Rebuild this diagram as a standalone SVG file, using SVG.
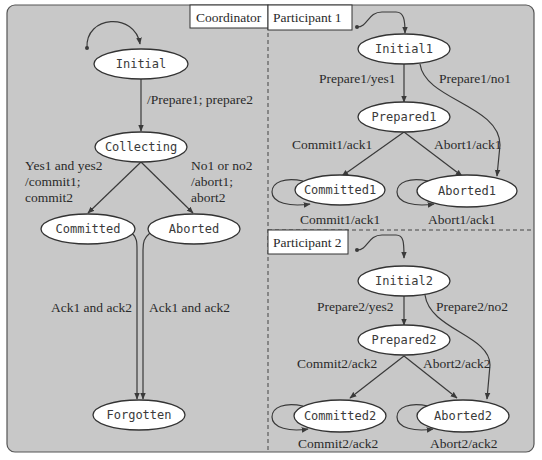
<svg xmlns="http://www.w3.org/2000/svg" width="542" height="460" viewBox="0 0 542 460">
<defs>
<marker id="ah" viewBox="0 0 10 10" refX="9" refY="5" markerWidth="7" markerHeight="7" orient="auto-start-reverse" markerUnits="userSpaceOnUse">
<path d="M0,1 L10,5 L0,9 z" fill="#3a3a3a"/>
</marker>
<style>
.st ellipse{fill:#fff;stroke:#333;stroke-width:1.3}
.st text{font-family:"DejaVu Sans Mono","Liberation Mono",monospace;font-size:12px;fill:#3a3a3a;text-anchor:middle}
.lbl{font-family:"Liberation Serif","DejaVu Serif",serif;font-size:13.5px;fill:#2a2a2a}
.edge path,.edge line{fill:none;stroke:#3a3a3a;stroke-width:1.2}
.arr{marker-end:url(#ah)}
.box rect{fill:#fff;stroke:#333;stroke-width:1}
.dash{stroke:#444;stroke-width:1;stroke-dasharray:4 3;fill:none}
</style>
</defs>
<rect x="0" y="0" width="542" height="460" fill="#fff"/>
<rect x="7" y="5" width="527" height="447" rx="8" fill="#c8c8c8" stroke="#555" stroke-width="1.2"/>
<line class="dash" x1="268" y1="5" x2="268" y2="452"/>
<line class="dash" x1="268" y1="230" x2="534" y2="230"/>
<g id="labels-boxes" class="box">
<rect x="190" y="5" width="78" height="23"/>
<text class="lbl" x="196" y="22">Coordinator</text>
<rect x="268" y="5" width="84" height="25"/>
<text class="lbl" x="273" y="22">Participant 1</text>
<rect x="268" y="230" width="80" height="24"/>
<text class="lbl" x="273" y="247">Participant 2</text>
</g>
<g id="connectors" class="edge">
<path class="arr" d="M87,48 C85,15 135,12 140,44"/>
<circle cx="87" cy="48" r="2" fill="#3a3a3a"/>
<line class="arr" x1="141" y1="79" x2="141" y2="131"/>
<line class="arr" x1="141" y1="162" x2="88" y2="213"/>
<line class="arr" x1="141" y1="162" x2="193" y2="213"/>
<path class="arr" d="M132,233 C137,238 137,242 137,250 L137,399"/>
<path class="arr" d="M150,233 C144,238 143,242 143,250 L143,399"/>

<path class="arr" d="M357,27 C368,27 368,12 382,12 L396,12 C404,12 405,20 405,33"/>
<circle cx="357" cy="27" r="2" fill="#3a3a3a"/>
<line class="arr" x1="404" y1="64" x2="404" y2="102"/>
<path class="arr" d="M420,64 C425,100 500,105 500,145 L497,176"/>
<line class="arr" x1="404" y1="132" x2="342" y2="176"/>
<line class="arr" x1="404" y1="132" x2="462" y2="176"/>
<path class="arr" d="M303,181 C285,177 272,182 272,192 C272,203 290,207 310,204"/>
<path class="arr" d="M428,181 C410,177 397,182 397,192 C397,203 415,207 434,204"/>

<path class="arr" d="M357,250 C368,250 368,235 382,235 L396,235 C404,235 404,243 404,258"/>
<circle cx="357" cy="250" r="2" fill="#3a3a3a"/>
<line class="arr" x1="404" y1="296" x2="404" y2="325"/>
<path class="arr" d="M425,295 C430,330 490,335 490,365 L487,399"/>
<line class="arr" x1="404" y1="356" x2="350" y2="398"/>
<line class="arr" x1="404" y1="356" x2="457" y2="398"/>
<path class="arr" d="M303,406 C285,402 272,407 272,417 C272,428 290,432 308,429"/>
<path class="arr" d="M428,406 C410,402 397,407 397,417 C397,428 415,432 433,429"/>
</g>
<g id="edge-labels">
<text class="lbl" x="147" y="104">/Prepare1; prepare2</text>
<text class="lbl" x="25" y="170">Yes1 and yes2</text>
<text class="lbl" x="25" y="186">/commit1;</text>
<text class="lbl" x="25" y="202">commit2</text>
<text class="lbl" x="191" y="170">No1 or no2</text>
<text class="lbl" x="191" y="186">/abort1;</text>
<text class="lbl" x="191" y="202">abort2</text>
<text class="lbl" x="51" y="312">Ack1 and ack2</text>
<text class="lbl" x="149" y="312">Ack1 and ack2</text>
<text class="lbl" x="319" y="83">Prepare1/yes1</text>
<text class="lbl" x="439" y="83">Prepare1/no1</text>
<text class="lbl" x="292" y="149">Commit1/ack1</text>
<text class="lbl" x="434" y="149">Abort1/ack1</text>
<text class="lbl" x="300" y="224">Commit1/ack1</text>
<text class="lbl" x="428" y="224">Abort1/ack1</text>
<text class="lbl" x="317" y="311">Prepare2/yes2</text>
<text class="lbl" x="436" y="311">Prepare2/no2</text>
<text class="lbl" x="297" y="368">Commit2/ack2</text>
<text class="lbl" x="423" y="368">Abort2/ack2</text>
<text class="lbl" x="298" y="448">Commit2/ack2</text>
<text class="lbl" x="430" y="448">Abort2/ack2</text>
</g>
<g id="initial" class="st"><ellipse cx="141" cy="64" rx="47" ry="15"/><text x="141" y="68">Initial</text></g>
<g id="collecting" class="st"><ellipse cx="141" cy="147" rx="46" ry="15"/><text x="141" y="151">Collecting</text></g>
<g id="committed" class="st"><ellipse cx="88" cy="229" rx="47" ry="15"/><text x="88" y="233">Committed</text></g>
<g id="aborted" class="st"><ellipse cx="194" cy="229" rx="46" ry="15"/><text x="194" y="233">Aborted</text></g>
<g id="forgotten" class="st"><ellipse cx="139" cy="415" rx="46" ry="15"/><text x="139" y="419">Forgotten</text></g>
<g id="initial1" class="st"><ellipse cx="404" cy="49" rx="46" ry="15"/><text x="404" y="53">Initial1</text></g>
<g id="prepared1" class="st"><ellipse cx="404" cy="117" rx="46" ry="15"/><text x="404" y="121">Prepared1</text></g>
<g id="committed1" class="st"><ellipse cx="340" cy="190" rx="45" ry="15"/><text x="340" y="194">Committed1</text></g>
<g id="aborted1" class="st"><ellipse cx="467" cy="191" rx="50" ry="16"/><text x="467" y="195">Aborted1</text></g>
<g id="initial2" class="st"><ellipse cx="404" cy="281" rx="46" ry="15"/><text x="404" y="285">Initial2</text></g>
<g id="prepared2" class="st"><ellipse cx="404" cy="340" rx="46" ry="15"/><text x="404" y="344">Prepared2</text></g>
<g id="committed2" class="st"><ellipse cx="340" cy="416" rx="46" ry="16"/><text x="340" y="420">Committed2</text></g>
<g id="aborted2" class="st"><ellipse cx="463" cy="416" rx="46" ry="16"/><text x="463" y="420">Aborted2</text></g>
</svg>
